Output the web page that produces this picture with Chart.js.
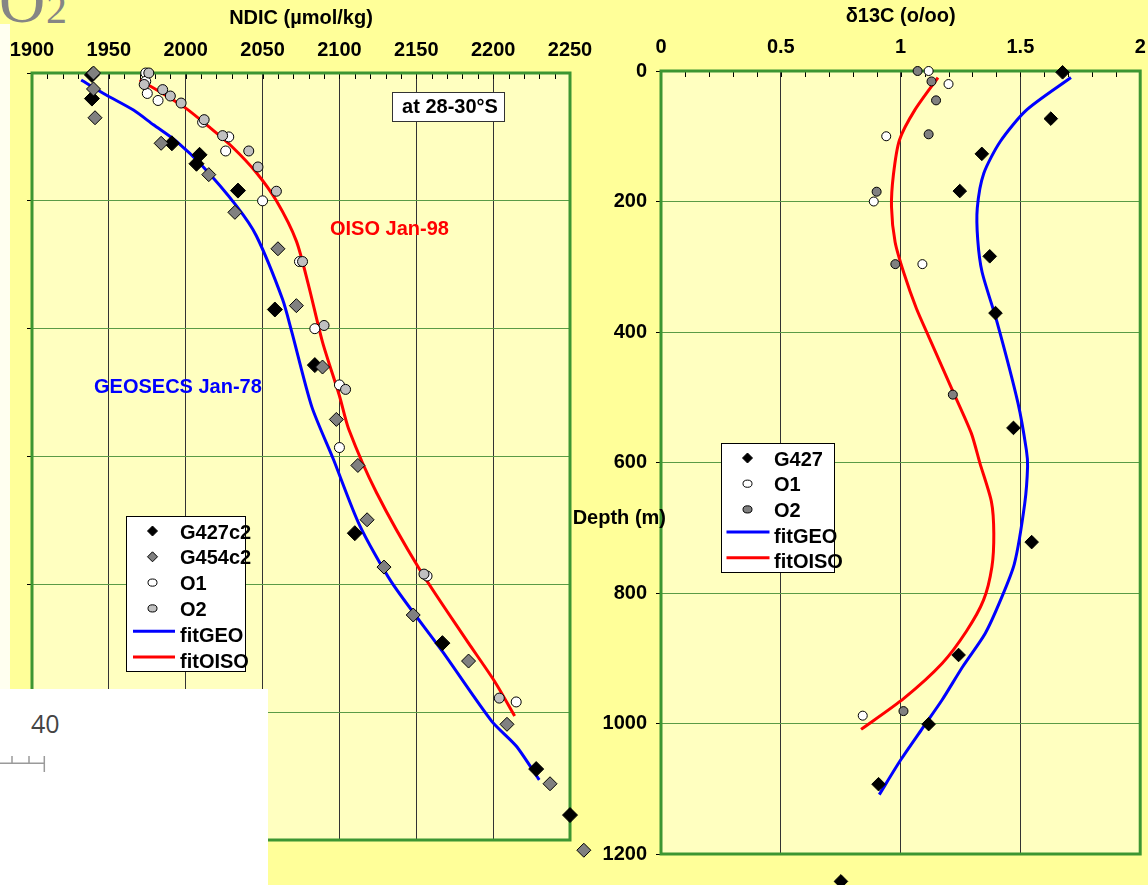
<!DOCTYPE html>
<html>
<head>
<meta charset="utf-8">
<script src="https://cdn.jsdelivr.net/npm/chart.js@4.4.1/dist/chart.umd.min.js"></script>
<style>
html,body{margin:0;padding:0;}
body{width:1148px;height:885px;background:#FFFF99;position:relative;overflow:hidden;font-family:"Liberation Sans",Arial,sans-serif;}
canvas{position:absolute;left:0;top:0;}
#strip{position:absolute;left:0;top:24px;width:10px;height:665px;background:#FFFFF0;}
#co2o{position:absolute;left:-1px;top:-31px;font-family:"Liberation Serif",serif;font-size:64px;line-height:1;color:#858585;}
#co2n{position:absolute;left:46px;top:-12px;font-family:"Liberation Serif",serif;font-size:42px;line-height:1;color:#858585;}
#wb{position:absolute;left:0;top:689px;z-index:5;background:#fff;}
</style>
</head>
<body>
<div id="strip"></div>
<div id="co2o">O</div>
<div id="co2n">2</div>
<canvas id="cL" width="1148" height="885"></canvas>
<canvas id="cR" width="1148" height="885"></canvas>
<svg id="wb" width="268" height="196" xmlns="http://www.w3.org/2000/svg">
  <text x="31" y="44" font-family="Open Sans" font-size="25" fill="#444">40</text>
  <line x1="0" y1="74.3" x2="45" y2="74.3" stroke="#9a9a9a" stroke-width="1.5"/>
  <line x1="12" y1="67" x2="12" y2="74.3" stroke="#9a9a9a" stroke-width="1.5"/>
  <line x1="29" y1="67" x2="29" y2="74.3" stroke="#9a9a9a" stroke-width="1.5"/>
  <line x1="44.3" y1="67" x2="44.3" y2="83" stroke="#9a9a9a" stroke-width="1.5"/>
</svg>
<script>
// ---------------- Left panel: NDIC (µmol/kg) vs depth ----------------
const ndicG427c2  = [1939, 1939, 1991, 2009, 2007, 2034, 2058, 2084, 2110, 2167, 2228, 2250];
const depthG427c2 = [3, 40, 110, 128, 142, 184, 370, 457, 720, 892, 1089, 1161];
const ndicG454c2  = [1940, 1940, 1941, 1984, 2015, 2032, 2060, 2072, 2089, 2098, 2112, 2118, 2129, 2148, 2184, 2209, 2237, 2259];
const depthG454c2 = [0, 25, 70, 110, 159, 218, 275, 364, 460, 542, 614, 699, 773, 848, 920, 1019, 1112, 1216];
const ndicO1  = [1974, 1974, 1975, 1982, 2011, 2028, 2026, 2050, 2074, 2084, 2100, 2100, 2157, 2215];
const depthO1 = [0, 13, 32, 43, 77, 100, 122, 200, 295, 400, 488, 586, 787, 984];
const ndicO2  = [1976, 1973, 1985, 1990, 1997, 2012, 2024, 2041, 2047, 2059, 2076, 2090, 2104, 2155, 2204];
const depthO2 = [0, 18, 26, 36, 47, 73, 98, 122, 147, 185, 295, 395, 495, 784, 978];
const ndicFitGEO  = [1932, 1948, 1966, 1979, 1994, 2011, 2033, 2046, 2063, 2069, 2082, 2096, 2113, 2134, 2167, 2199, 2215, 2230];
const depthFitGEO = [11, 34, 58, 81, 107, 146, 208, 255, 354, 405, 522, 604, 707, 797, 905, 1014, 1053, 1106];
const ndicFitOISO  = [1970, 1985, 2000, 2015, 2030, 2046, 2059, 2072, 2080, 2089, 2100, 2106, 2124, 2152, 2182, 2201, 2214];
const depthFitOISO = [11, 32, 55, 84, 115, 156, 200, 263, 333, 421, 505, 557, 656, 776, 885, 952, 1006];

// ---------------- Right panel: δ13C (o/oo) vs depth ----------------
const d13G427    = [1.676, 1.627, 1.339, 1.247, 1.372, 1.396, 1.471, 1.547, 1.242, 1.117, 0.908, 0.751];
const depthG427  = [2, 73, 127, 184, 284, 371, 547, 722, 895, 1001, 1093, 1242];
const d13O1      = [1.117, 1.200, 0.940, 0.888, 1.091, 0.842];
const depthO1r   = [0, 20, 100, 200, 296, 988];
const d13O2      = [1.071, 1.129, 1.148, 1.117, 0.900, 0.978, 1.218, 1.012];
const depthO2r   = [0, 16, 45, 97, 185, 296, 496, 981];
const d13FitGEO    = [1.711, 1.525, 1.416, 1.347, 1.320, 1.322, 1.340, 1.402, 1.490, 1.525, 1.530, 1.518, 1.475, 1.417, 1.353, 1.259, 1.173, 1.086, 1.000, 0.911];
const depthFitGEOr = [10, 60, 108, 157, 210, 259, 308, 384, 509, 581, 606, 663, 755, 811, 862, 913, 964, 1010, 1056, 1109];
const d13FitOISO    = [1.156, 1.059, 0.995, 0.970, 0.962, 0.977, 1.014, 1.066, 1.121, 1.216, 1.295, 1.331, 1.379, 1.389, 1.381, 1.346, 1.274, 1.173, 1.015, 0.835];
const depthFitOISOr = [10, 60, 106, 159, 208, 262, 310, 364, 410, 489, 555, 601, 660, 709, 760, 811, 859, 908, 961, 1009];

// Axis definitions / tick labels
const ndicAxis  = {min: 1900, max: 2250, step: 50, minor: 10, title: 'NDIC (\u00b5mol/kg)'};
const d13Axis   = {min: 0, max: 2, step: 0.5, minor: 0.1, title: '\u03b413C (o/oo)'};
const depthAxis = {min: 0, max: 1200, step: 200, title: 'Depth (m)'};

const FONT = '"Liberation Sans", Arial, sans-serif';
Chart.defaults.font.family = FONT;
Chart.defaults.font.weight = 'bold';
Chart.defaults.font.size = 20;
Chart.defaults.color = '#000';

// Let markers that fall just outside the plot frame still be drawn (as in the original)
const PointEl = (Chart.elements && Chart.elements.PointElement) || Chart.registry.getElement('point');
const _pointDraw = PointEl.prototype.draw;
PointEl.prototype.draw = function (ctx) { return _pointDraw.call(this, ctx, undefined); };

function pts(xs, ys) { return xs.map((x, i) => ({x: x, y: ys[i]})); }
function ptDS(label, xs, ys, style, fill, radius, order) {
  return {label, data: pts(xs, ys), showLine: false, pointStyle: style, pointRadius: radius,
    pointBackgroundColor: fill, pointBorderColor: '#000', pointBorderWidth: 1, order, clip: false, kind: 'marker'};
}
function lineDS(label, xs, ys, color) {
  return {label, data: pts(xs, ys), showLine: true, pointRadius: 0, borderColor: color, borderWidth: 3,
    tension: 0.25, order: 10, clip: false, kind: 'line', fill: false};
}

function drawMarker(ctx, ds, x, y, r) {
  ctx.save();
  ctx.fillStyle = ds.pointBackgroundColor; ctx.strokeStyle = '#000'; ctx.lineWidth = 1;
  ctx.beginPath();
  if (ds.pointStyle === 'rectRot') {
    ctx.moveTo(x, y - r); ctx.lineTo(x + r, y); ctx.lineTo(x, y + r); ctx.lineTo(x - r, y); ctx.closePath();
  } else {
    ctx.ellipse(x, y, r, r * 0.8, 0, 0, Math.PI * 2);
  }
  ctx.fill(); ctx.stroke();
  ctx.restore();
}

const deco = {
  id: 'deco',
  beforeDraw(chart, args, o) {
    const {ctx, chartArea: a} = chart;
    ctx.save();
    ctx.fillStyle = o.plotBg;
    ctx.fillRect(a.left, a.top, a.right - a.left, a.bottom - a.top);
    ctx.restore();
  },
  beforeDatasetsDraw(chart, args, o) {
    const {ctx, chartArea: a} = chart;
    const xs = chart.scales.x;
    ctx.save();
    // minor ticks along top axis
    ctx.strokeStyle = '#000'; ctx.lineWidth = 1;
    const n = Math.round((o.axis.max - o.axis.min) / o.axis.minor);
    for (let i = 0; i <= n; i++) {
      const v = o.axis.min + i * o.axis.minor;
      const px = Math.round(xs.getPixelForValue(v)) + 0.5;
      ctx.beginPath(); ctx.moveTo(px, a.top); ctx.lineTo(px, a.top + 6); ctx.stroke();
    }
    // green frame
    ctx.strokeStyle = '#3c9632'; ctx.lineWidth = 3;
    ctx.strokeRect(a.left, a.top, a.right - a.left, a.bottom - a.top);
    ctx.restore();
  },
  afterDraw(chart, args, o) {
    const ctx = chart.ctx;
    ctx.save();
    // legend
    const L = o.legend;
    ctx.fillStyle = '#fff'; ctx.fillRect(L.x, L.y, L.w, L.h);
    ctx.strokeStyle = '#000'; ctx.lineWidth = 1; ctx.strokeRect(L.x + 0.5, L.y + 0.5, L.w, L.h);
    ctx.font = 'bold ' + L.size + 'px ' + FONT;
    ctx.textBaseline = 'middle'; ctx.textAlign = 'left';
    chart.data.datasets.forEach((ds, i) => {
      const ty = L.textY0 + i * L.dy;
      if (ds.kind === 'line') {
        ctx.strokeStyle = ds.borderColor; ctx.lineWidth = 3;
        ctx.beginPath(); ctx.moveTo(L.lineX0, ty - 5); ctx.lineTo(L.lineX1, ty - 5); ctx.stroke();
      } else {
        drawMarker(ctx, ds, L.markX, ty - 2, ds.pointStyle === 'rectRot' ? 5 : 4.5);
      }
      ctx.fillStyle = '#000';
      ctx.fillText(ds.label, L.textX, ty);
    });
    // annotations
    (o.notes || []).forEach(t => {
      if (t.box) {
        ctx.fillStyle = '#fff'; ctx.fillRect(t.box[0], t.box[1], t.box[2], t.box[3]);
        ctx.strokeStyle = '#333'; ctx.lineWidth = 1;
        ctx.strokeRect(t.box[0] + 0.5, t.box[1] + 0.5, t.box[2], t.box[3]);
      }
      ctx.font = 'bold ' + t.size + 'px ' + FONT;
      ctx.fillStyle = t.color; ctx.textAlign = t.align || 'left'; ctx.textBaseline = 'middle';
      ctx.fillText(t.text, t.x, t.y);
    });
    ctx.restore();
  }
};

const plain = v => String(v);

new Chart(document.getElementById('cL'), {
  type: 'scatter',
  data: {datasets: [
    ptDS('G427c2', ndicG427c2, depthG427c2, 'rectRot', '#000000', 7.5, 4),
    ptDS('G454c2', ndicG454c2, depthG454c2, 'rectRot', '#808080', 7, 3),
    ptDS('O1', ndicO1, depthO1, 'circle', '#ffffff', 5, 2),
    ptDS('O2', ndicO2, depthO2, 'circle', '#c0c0c0', 5, 1),
    lineDS('fitGEO', ndicFitGEO, depthFitGEO, '#0000ff'),
    lineDS('fitOISO', ndicFitOISO, depthFitOISO, '#ff0000')
  ]},
  options: {
    responsive: false, animation: false, events: [],
    layout: {padding: {left: 0, top: 0, right: 1148 - 570, bottom: 885 - 840}},
    plugins: {
      legend: {display: false}, tooltip: {enabled: false},
      deco: {
        plotBg: '#FFFFC0', axis: ndicAxis,
        legend: {x: 126, y: 516, w: 119, h: 155, size: 20, textX: 180, textY0: 533, dy: 25.8, markX: 152.5, lineX0: 133, lineX1: 175},
        notes: [
          {text: 'at 28-30\u00b0S', x: 450, y: 107, size: 20, color: '#000', align: 'center', box: [392, 92, 112, 29]},
          {text: 'OISO Jan-98', x: 330, y: 229, size: 20, color: '#ff0000'},
          {text: 'GEOSECS Jan-78', x: 94, y: 387, size: 20, color: '#0000ff'}
        ]
      }
    },
    scales: {
      x: {
        type: 'linear', position: 'top', min: ndicAxis.min, max: ndicAxis.max,
        ticks: {stepSize: ndicAxis.step, padding: 11, autoSkip: false, maxRotation: 0, callback: plain},
        grid: {color: '#333', lineWidth: 1, drawTicks: false},
        border: {display: false},
        title: {display: true, text: ndicAxis.title, padding: {top: 6, bottom: 0}},
        afterFit(s) { s.height = 73; s.paddingLeft = 0; s.paddingRight = 0; }
      },
      y: {
        type: 'linear', reverse: true, min: depthAxis.min, max: depthAxis.max,
        ticks: {stepSize: depthAxis.step, display: false},
        grid: {color: '#5a9b46', lineWidth: 1, drawTicks: true, tickLength: 5, tickColor: '#000'},
        border: {display: false},
        afterFit(s) { s.width = 32; s.paddingTop = 0; s.paddingBottom = 0; }
      }
    }
  },
  plugins: [deco]
});

new Chart(document.getElementById('cR'), {
  type: 'scatter',
  data: {datasets: [
    ptDS('G427', d13G427, depthG427, 'rectRot', '#000000', 6.8, 3),
    ptDS('O1', d13O1, depthO1r, 'circle', '#ffffff', 4.5, 2),
    ptDS('O2', d13O2, depthO2r, 'circle', '#808080', 4.5, 1),
    lineDS('fitGEO', d13FitGEO, depthFitGEOr, '#0000ff'),
    lineDS('fitOISO', d13FitOISO, depthFitOISOr, '#ff0000')
  ]},
  options: {
    responsive: false, animation: false, events: [],
    layout: {padding: {left: 600, top: 0, right: 1, bottom: 885 - 854}},
    plugins: {
      legend: {display: false}, tooltip: {enabled: false},
      deco: {
        plotBg: '#FFFFC0', axis: d13Axis,
        legend: {x: 721, y: 443, w: 113, h: 129, size: 20, textX: 774, textY0: 460, dy: 25.7, markX: 747.5, lineX0: 726.5, lineX1: 769.5},
        notes: [
          {text: depthAxis.title, x: 666, y: 518, size: 20, color: '#000', align: 'right'}
        ]
      }
    },
    scales: {
      x: {
        type: 'linear', position: 'top', min: d13Axis.min, max: d13Axis.max,
        ticks: {stepSize: d13Axis.step, padding: 12, autoSkip: false, maxRotation: 0, callback: plain},
        grid: {color: '#333', lineWidth: 1, drawTicks: false},
        border: {display: false},
        title: {display: true, text: d13Axis.title, padding: {top: 4, bottom: 0}},
        afterFit(s) { s.height = 71; s.paddingLeft = 0; s.paddingRight = 0; }
      },
      y: {
        type: 'linear', reverse: true, min: depthAxis.min, max: depthAxis.max,
        ticks: {stepSize: depthAxis.step, padding: 9, callback: plain},
        grid: {color: '#5a9b46', lineWidth: 1, drawTicks: true, tickLength: 5, tickColor: '#000'},
        border: {display: false},
        afterFit(s) { s.width = 61; s.paddingTop = 0; s.paddingBottom = 0; }
      }
    }
  },
  plugins: [deco]
});
</script>
</body>
</html>
